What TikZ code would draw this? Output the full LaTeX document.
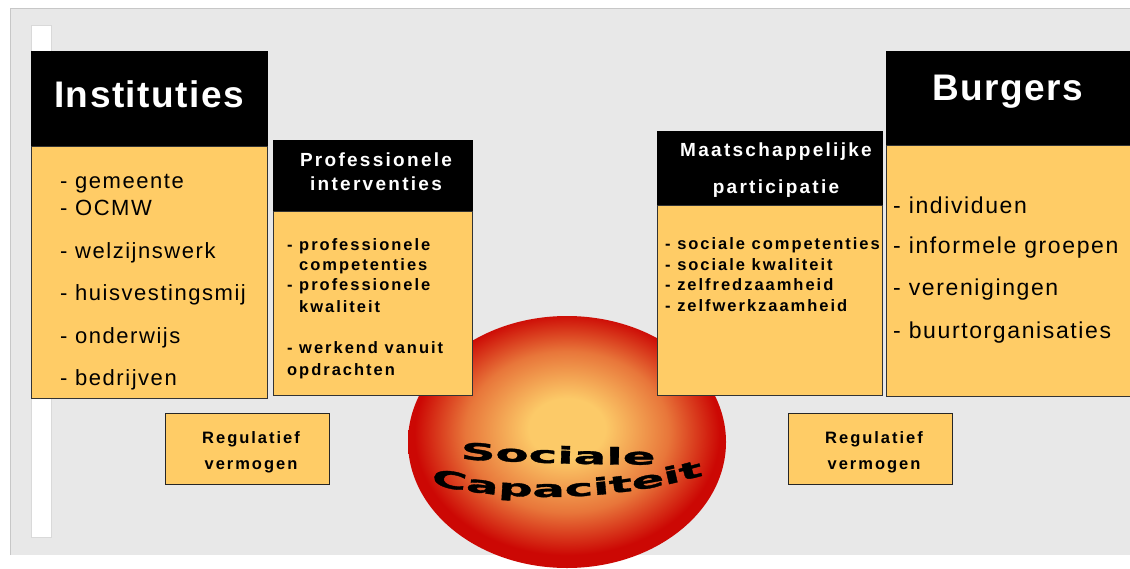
\documentclass[tikz,border=0pt]{standalone}
\usepackage{fontspec}
\setmainfont{Liberation Sans}
\newfontfamily\titlefont[LetterSpace=4]{Liberation Sans}
\newfontfamily\itemfont[LetterSpace=7]{Liberation Sans}
\newfontfamily\boldfont[LetterSpace=12]{Liberation Sans}
\newfontfamily\ballfont[FakeStretch=2.1,FakeBold=1.5]{DejaVu Sans Bold}
\usetikzlibrary{decorations.text}
\definecolor{boxyellow}{RGB}{255,204,102}
\definecolor{panelgray}{RGB}{232,232,232}
\definecolor{ballred}{RGB}{204,8,4}
\definecolor{ballmid}{RGB}{232,118,58}
\definecolor{ballcore}{RGB}{252,202,104}
\pgfdeclareradialshading{ballglow}{\pgfpoint{0bp}{3bp}}{%
  color(0bp)=(ballcore); color(6bp)=(ballcore); color(16bp)=(ballmid);
  color(24bp)=(ballred); color(50bp)=(ballred)}
\begin{document}
\begin{tikzpicture}[x=1pt,y=-1pt,
  title/.style={anchor=base,inner sep=0pt,text=white,font=\titlefont\bfseries\fontsize{37}{40}\selectfont},
  subtitle/.style={anchor=base,inner sep=0pt,text=white,font=\boldfont\bfseries\fontsize{19}{22}\selectfont},
  item/.style={anchor=base west,inner sep=0pt,font=\itemfont\fontsize{22}{26}\selectfont},
  bitem/.style={anchor=base west,inner sep=0pt,font=\boldfont\bfseries\fontsize{16.5}{19}\selectfont},
  reg/.style={anchor=base,inner sep=0pt,font=\boldfont\bfseries\fontsize{16.5}{19}\selectfont},
  ]
  \useasboundingbox (0,0) rectangle (1130,568);

  % panel and side strip
  \fill[panelgray] (10,8) rectangle (1135,555);
  \draw[black!22] (10,555) -- (10,8) -- (1135,8);
  \filldraw[fill=white,draw=black!15] (31,25) rectangle (51,537);

  % the ball, behind the boxes
  \shade[shading=ballglow] (567,442) ellipse [x radius=159,y radius=126];
  \path[decorate,decoration={text along path,text align=center,
    text={|\ballfont\fontsize{23}{23}\selectfont|Sociale}}]
    (436,458) .. controls (515,462) and (600,466) .. (680,464);
  \path[decorate,decoration={text along path,text align=center,
    text={|\ballfont\fontsize{23}{23}\selectfont|Capaciteit}}]
    (414,480) .. controls (500,504) and (620,504) .. (720,470);

  % Instituties
  \filldraw[fill=black,draw=black] (31,51) rectangle (267,146);
  \filldraw[fill=boxyellow,draw=black!80] (31,146) rectangle (267,398);
  \node[title] (inst) at (149,107) {Instituties};
  \foreach \n/\y/\t in {1/188/gemeente,2/215/OCMW,3/258/welzijnswerk,
      4/300/huisvestingsmij,5/343/onderwijs,6/385/bedrijven}
    \node[item] (inst\n) at (60,\y) {- \t};

  % Professionele interventies
  \filldraw[fill=black,draw=black] (273,140) rectangle (472,211);
  \filldraw[fill=boxyellow,draw=black!80] (273,211) rectangle (472,395);
  \node[subtitle] (prof1) at (376,166) {Professionele};
  \node[subtitle] (prof2) at (376,190) {interventies};
  \foreach \n/\x/\y/\t in {1/287/250/- professionele,2/299/270/competenties,
      3/287/290/- professionele,4/299/312/kwaliteit,
      5/287/353/- werkend vanuit,6/287/375/opdrachten}
    \node[bitem] (pint\n) at (\x,\y) {\t};

  % Maatschappelijke participatie
  \filldraw[fill=black,draw=black] (657,131) rectangle (882,205);
  \filldraw[fill=boxyellow,draw=black!80] (657,205) rectangle (882,395);
  \node[subtitle] (maat1) at (776,156) {Maatschappelijke};
  \node[subtitle] (maat2) at (776,193) {participatie};
  \foreach \n/\y/\t in {1/249/sociale competenties,2/270/sociale kwaliteit,
      3/290/zelfredzaamheid,4/311/zelfwerkzaamheid}
    \node[bitem] (mpart\n) at (665,\y) {- \t};

  % Burgers
  \filldraw[fill=black,draw=black] (886,51) rectangle (1140,145);
  \filldraw[fill=boxyellow,draw=black!80] (886,145) rectangle (1140,396);
  \node[title] (burg) at (1008,100) {Burgers};
  \foreach \n/\y/\t in {1/213/individuen,2/253/informele groepen,
      3/295/verenigingen,4/338/buurtorganisaties}
    \node[item,font=\itemfont\fontsize{23}{26}\selectfont] (burg\n) at (893,\y) {- \t};

  % Regulatief vermogen, twice
  \filldraw[fill=boxyellow,draw=black!85] (165,413) rectangle (329,484);
  \node[reg] (regl1) at (251,443) {Regulatief};
  \node[reg] (regl2) at (251,469) {vermogen};
  \filldraw[fill=boxyellow,draw=black!85] (788,413) rectangle (952,484);
  \node[reg] (regr1) at (874,443) {Regulatief};
  \node[reg] (regr2) at (874,469) {vermogen};
\end{tikzpicture}
\end{document}
